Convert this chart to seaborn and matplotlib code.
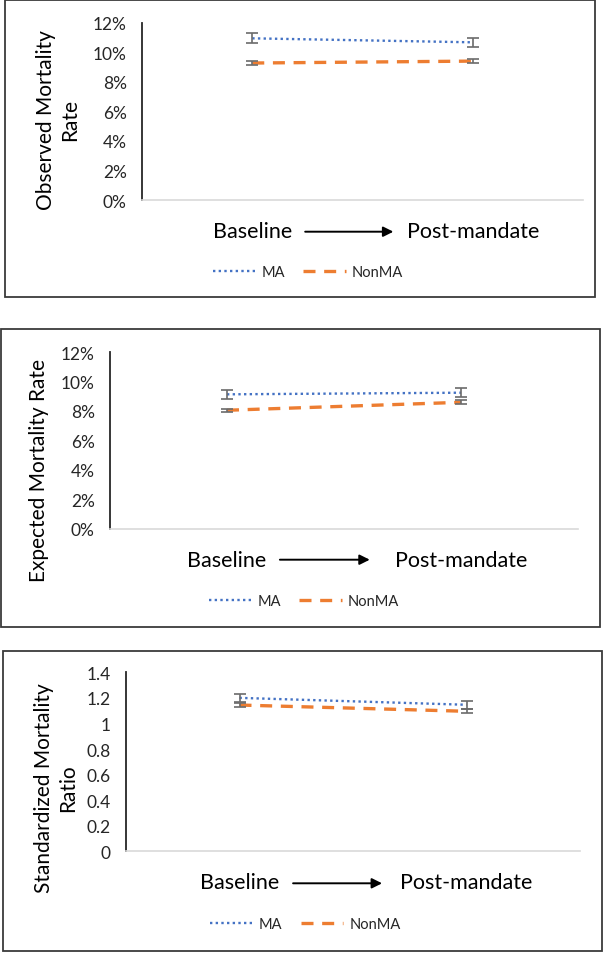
import matplotlib
matplotlib.use("Agg")
import matplotlib.pyplot as plt
import seaborn as sns
import pandas as pd
from matplotlib.patches import Rectangle

# ---------------- data ----------------
periods = ["Baseline", "Post-mandate"]
groups = ["MA", "NonMA"]

obs_ma = [10.93, 10.66]
obs_ma_err = [0.33, 0.29]
obs_nonma = [9.26, 9.39]
obs_nonma_err = [0.11, 0.11]

exp_ma = [9.13, 9.24]
exp_ma_err = [0.31, 0.31]
exp_nonma = [8.05, 8.59]
exp_nonma_err = [0.10, 0.13]

smr_ma = [1.20, 1.146]
smr_ma_err = [0.03, 0.032]
smr_nonma = [1.144, 1.095]
smr_nonma_err = [0.015, 0.016]

pct_ticks = [0, 2, 4, 6, 8, 10, 12]
pct_tick_labels = ["0%", "2%", "4%", "6%", "8%", "10%", "12%"]
smr_ticks = [0, 0.2, 0.4, 0.6, 0.8, 1.0, 1.2, 1.4]
smr_tick_labels = ["0", "0.2", "0.4", "0.6", "0.8", "1", "1.2", "1.4"]

ylabels = ["Observed Mortality\nRate", "Expected Mortality Rate", "Standardized Mortality\nRatio"]

# ---------------- style ----------------
sns.set_theme(style="white")
plt.rcParams["font.family"] = ["Lato", "DejaVu Sans"]

BLUE = "#4472C4"
ORANGE = "#ED7D31"
ERR = "#6b6b6b"

W, H = 606, 954
fig = plt.figure(figsize=(W / 100, H / 100), dpi=100)


def frac_rect(L, T, R, B):
    return [L / W, 1 - B / H, (R - L) / W, (B - T) / H]


panels = [
    dict(ax=(142, 23.5, 583, 201), box=(4.5, 1, 595, 298), ylab=(58, 120),
         arrow=(0.24, 0.64, 232.7), leg=(308, 273),
         ma=obs_ma, ma_err=obs_ma_err, non=obs_nonma, non_err=obs_nonma_err,
         ylim=(0, 12), ticks=pct_ticks, tlabels=pct_tick_labels),
    dict(ax=(110, 353, 578, 530), box=(1, 330, 600, 628), ylab=(39, 471),
         arrow=(0.226, 0.61, 560.7), leg=(304, 602),
         ma=exp_ma, ma_err=exp_ma_err, non=exp_nonma, non_err=exp_nonma_err,
         ylim=(0, 12), ticks=pct_ticks, tlabels=pct_tick_labels),
    dict(ax=(126, 673.3, 580, 852.3), box=(3, 652, 602, 952), ylab=(56, 788),
         arrow=(0.236, 0.628, 884.3), leg=(305.5, 925),
         ma=smr_ma, ma_err=smr_ma_err, non=smr_nonma, non_err=smr_nonma_err,
         ylim=(0, 1.4), ticks=smr_ticks, tlabels=smr_tick_labels),
]

for i, p in enumerate(panels):
    L, T, R, B = p["ax"]
    ax = fig.add_axes(frac_rect(L, T, R, B))
    df = pd.DataFrame({
        "x": [0, 1, 0, 1],
        "value": list(p["ma"]) + list(p["non"]),
        "group": [groups[0]] * 2 + [groups[1]] * 2,
    })
    sns.lineplot(data=df, x="x", y="value", hue="group", style="group",
                 hue_order=groups, style_order=groups,
                 palette={"MA": BLUE, "NonMA": ORANGE},
                 dashes={"MA": (1, 1.4), "NonMA": (3.6, 2.6)},
                 linewidth=2, legend=False, ax=ax, zorder=3)
    l_ma, l_non = ax.lines[0], ax.lines[1]
    l_ma.set_linewidth(1.7)
    l_non.set_linewidth(2.4)

    ax.errorbar([0, 1], p["ma"], yerr=p["ma_err"], fmt="none", ecolor=ERR,
                elinewidth=1.2, capsize=4, capthick=1.2, zorder=4)
    ax.errorbar([0, 1], p["non"], yerr=p["non_err"], fmt="none", ecolor=ERR,
                elinewidth=1.2, capsize=4, capthick=1.2, zorder=4)

    ax.set_xlim(-0.5, 1.5)
    ax.set_ylim(*p["ylim"])
    ax.set_yticks(p["ticks"])
    ax.set_yticklabels(p["tlabels"], fontsize=12.5, color="#262626")
    ax.set_xticks([0, 1])
    ax.set_xticklabels(periods, fontsize=15.5, color="black")
    ax.tick_params(axis="y", length=0, pad=11)
    ax.tick_params(axis="x", length=0, pad=15)
    ax.set_xlabel("")

    for s in ("top", "right"):
        ax.spines[s].set_visible(False)
    ax.spines["left"].set_color("#262626")
    ax.spines["left"].set_linewidth(1.3)
    ax.spines["bottom"].set_color("#d9d9d9")
    ax.spines["bottom"].set_linewidth(1.2)
    ax.set_facecolor("none")

    # y label
    ax.set_ylabel(ylabels[i], fontsize=15, color="black", linespacing=1.25,
                  va="center", ha="center")
    yx, yy = p["ylab"]
    ax.yaxis.set_label_coords((yx - L) / (R - L), (B - yy) / (B - T))

    # arrow between category labels
    ax0, ax1, ay = p["arrow"]
    yfrac = (B - ay) / (B - T)
    ax.annotate("", xy=(ax1, yfrac), xytext=(ax0, yfrac),
                xycoords=ax.get_xaxis_transform(), textcoords=ax.get_xaxis_transform(),
                arrowprops=dict(arrowstyle="-|>", color="black", lw=1.4,
                                mutation_scale=15, shrinkA=0, shrinkB=0),
                annotation_clip=False)

    # legend
    lx, ly = p["leg"]
    ax.legend([l_ma, l_non], groups, loc="center", ncol=2, frameon=False,
              bbox_to_anchor=(lx / W, 1 - ly / H), bbox_transform=fig.transFigure,
              fontsize=10.5, handlelength=2.9, handletextpad=0.45, columnspacing=1.25,
              labelcolor="#262626")

    # panel frame
    bx0, by0, bx1, by1 = p["box"]
    fig.patches.append(Rectangle((bx0 / W, 1 - by1 / H), (bx1 - bx0) / W, (by1 - by0) / H,
                                 transform=fig.transFigure, fill=False,
                                 edgecolor="#3a3a3a", linewidth=1.3, zorder=0))

fig.savefig("out.png", dpi=100)
